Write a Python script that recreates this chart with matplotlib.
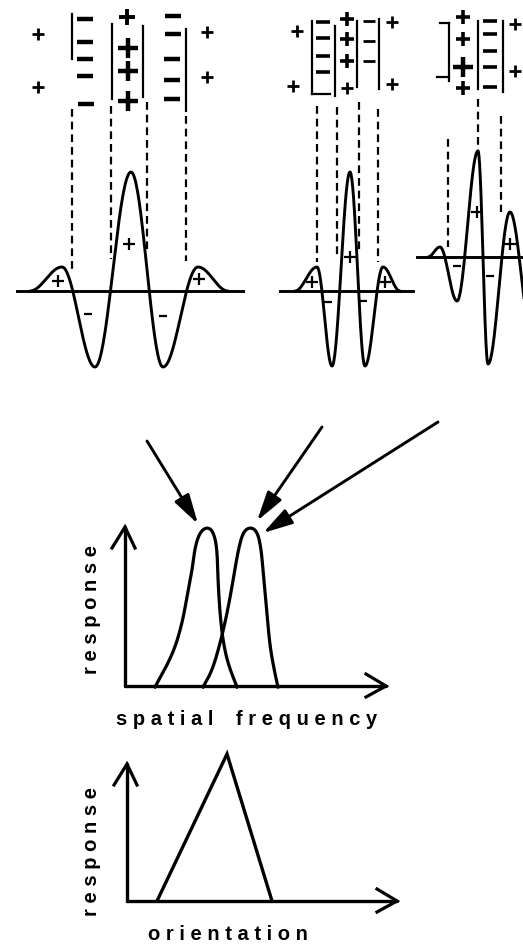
import numpy as np
import matplotlib
matplotlib.use("Agg")
import matplotlib.pyplot as plt

# ---------------- data (diagram units, y downward) ----------------
# receptive-field profiles: extrema (x, y) of each profile
prof1_x = [30, 62, 95, 131, 163, 198, 228]
prof1_y = [292, 268, 368, 173, 368, 268, 292]
prof2_x = [295, 317, 332, 350, 365, 383, 400]
prof2_y = [292, 268, 367, 173, 367, 268, 292]
prof3_x = [428, 440, 457, 478, 488, 510, 532]
prof3_y = [258, 248, 302, 152, 365, 213, 335]
baselines = [(17, 243, 292), (280, 413, 292), (417, 523, 258)]

# profile sign labels (x, y, sign)
prof_signs = [(58, 282, "+"), (88, 315, "-"), (129, 245, "+"), (163, 317, "-"), (199, 280, "+"),
              (312, 283, "+"), (328, 303, "-"), (350, 258, "+"), (363, 302, "-"), (385, 283, "+"),
              (457, 267, "-"), (477, 213, "+"), (490, 277, "-"), (510, 245, "+")]

# receptive-field bars: thick signs (x, y, sign, size class)
bar_signs = [(85, 20, "-", "L"), (85, 43, "-", "L"), (85, 60, "-", "L"), (85, 77, "-", "L"),
             (86, 105, "-", "L"),
             (127, 18, "+", "S"), (128, 49, "+", "L"), (128, 72, "+", "L"), (128, 102, "+", "L"),
             (173, 17, "-", "L"), (173, 35, "-", "L"), (172, 60, "-", "L"), (172, 81, "-", "L"),
             (172, 100, "-", "L"),
             (323, 23, "-", "M"), (323, 39, "-", "M"), (323, 57, "-", "M"), (323, 73, "-", "M"),
             (347, 20, "+", "M"), (347, 40, "+", "M"), (347, 62, "+", "M"),
             (463, 18, "+", "M"), (463, 40, "+", "M"), (463, 68, "+", "L"), (463, 89, "+", "M"),
             (490, 22, "-", "M"), (490, 35, "-", "M"), (490, 52, "-", "M"), (490, 68, "-", "M"),
             (490, 88, "-", "M")]
thin_minus = [(369, 22), (369, 42), (369, 62)]
small_plus = [(38, 35), (38, 88), (207, 33), (207, 78), (297, 32), (293, 87),
              (392, 23), (392, 85), (347, 89), (515, 25), (515, 72)]
# solid bar borders (x, y_top, y_bottom)
solid_lines = [(72, 15, 60), (112, 25, 100), (143, 27, 98), (186, 30, 112),
               (312, 22, 95), (335, 27, 97), (357, 22, 88), (379, 20, 90),
               (449, 24, 82), (478, 22, 90), (503, 22, 93)]
solid_hlines = [(312, 330, 95), (440, 449, 24), (437, 449, 78)]
# dashed projection lines (x, y_top, y_bottom)
dashed_lines = [(72, 110, 270), (111, 107, 260), (147, 103, 250), (186, 117, 262),
                (317, 107, 263), (337, 108, 257), (359, 103, 253), (378, 110, 263),
                (448, 140, 248), (478, 100, 153), (501, 117, 213)]

# pointer arrows (tail x, tail y, head x, head y)
pointers = [(147, 442, 198, 525), (322, 428, 257, 522), (438, 423, 263, 534)]

# spatial-frequency tuning curves
sf1_x = [155, 173, 182, 187, 192, 195, 200, 207, 213, 217, 218, 220, 223, 228, 237]
sf1_y = [688, 655, 625, 598, 572, 548, 533, 528, 532, 548, 582, 615, 642, 665, 688]
sf2_x = [203, 212, 220, 227, 233, 238, 243, 250, 257, 261, 264, 267, 270, 275, 278]
sf2_y = [688, 672, 645, 615, 582, 552, 533, 528, 532, 548, 582, 615, 648, 675, 688]
sf_axis = (125, 687, 386, 528)        # x0, y0, x_end, y_top

# orientation tuning triangle
or_axis = (127, 902, 397, 765)
or_x = [157, 227, 272]
or_y = [902, 755, 902]

# ---------------- figure ----------------
fig = plt.figure(figsize=(5.23, 9.45), dpi=100)
ax = fig.add_axes([0, 0, 1, 1])
ax.set_xlim(0, 523)
ax.set_ylim(945, 0)
ax.axis("off")

K = "black"
LW = 2.1


def cos_curve(xs, ys, n=40):
    px, py = [], []
    for i in range(len(xs) - 1):
        t = np.linspace(0, 1, n)
        f = (1 - np.cos(np.pi * t)) / 2
        px.extend(xs[i] + (xs[i + 1] - xs[i]) * t)
        py.extend(ys[i] + (ys[i + 1] - ys[i]) * f)
    return np.array(px), np.array(py)


def chaikin(xs, ys, it=4):
    P = np.column_stack([xs, ys]).astype(float)
    for _ in range(it):
        Q = 0.75 * P[:-1] + 0.25 * P[1:]
        R = 0.25 * P[:-1] + 0.75 * P[1:]
        mid = np.empty((2 * len(Q), 2))
        mid[0::2] = Q
        mid[1::2] = R
        P = np.vstack([P[0], mid, P[-1]])
    return P[:, 0], P[:, 1]


for xs, ys in [(prof1_x, prof1_y), (prof2_x, prof2_y), (prof3_x, prof3_y)]:
    px, py = cos_curve(xs, ys)
    ax.plot(px, py, color=K, lw=LW, solid_capstyle="round")
for x0, x1, y in baselines:
    ax.plot([x0, x1], [y, y], color=K, lw=LW)

for x, y, s in prof_signs:
    if s == "+":
        ax.plot(x, y, marker="+", ms=9, mew=1.6, color=K)
    else:
        ax.plot(x, y, marker="_", ms=6, mew=1.6, color=K)

SIZES = {"L": (14, 11.5, 3.2), "M": (10, 9.5, 2.6), "S": (11, 9, 2.8)}
for x, y, s, c in bar_signs:
    pms, mms, mew = SIZES[c]
    if s == "+":
        ax.plot(x, y, marker="+", ms=pms, mew=mew, color=K)
    else:
        ax.plot(x, y, marker="_", ms=mms, mew=mew, color=K)
for x, y in thin_minus:
    ax.plot(x, y, marker="_", ms=9, mew=2.0, color=K)
for x, y in small_plus:
    ax.plot(x, y, marker="+", ms=8, mew=2.0, color=K)

for x, y0, y1 in solid_lines:
    ax.plot([x, x], [y0, y1], color=K, lw=1.6)
for x0, x1, y in solid_hlines:
    ax.plot([x0, x1], [y, y], color=K, lw=1.6)
for x, y0, y1 in dashed_lines:
    ax.plot([x, x], [y0, y1], color=K, lw=1.6, linestyle=(0, (3.5, 2.2)))

for tx, ty, hx, hy in pointers:
    ax.annotate("", xy=(hx, hy), xytext=(tx, ty),
                arrowprops=dict(arrowstyle="-|>,head_length=1.0,head_width=0.28",
                                mutation_scale=18, color=K, lw=2.1, shrinkA=0, shrinkB=0))


def open_axes(x0, y0, x1, ytop):
    ax.plot([x0, x0], [y0, ytop], color=K, lw=2.4, solid_capstyle="round")
    ax.plot([x0, x1], [y0, y0], color=K, lw=2.4, solid_capstyle="round")
    ax.plot([x0 - 13, x0, x0 + 10], [ytop + 21, ytop, ytop + 21], color=K, lw=2.3,
            solid_joinstyle="miter")
    ax.plot([x1 - 20, x1, x1 - 20], [y0 - 12, y0, y0 + 11], color=K, lw=2.3,
            solid_joinstyle="miter")


open_axes(*sf_axis)
for xs, ys in [(sf1_x, sf1_y), (sf2_x, sf2_y)]:
    cx, cy = chaikin(xs, ys)
    ax.plot(cx, cy, color=K, lw=2.3)

open_axes(*or_axis)
ax.plot(or_x, or_y, color=K, lw=2.4, solid_joinstyle="miter")

font = dict(family=["Liberation Sans", "DejaVu Sans"], fontweight="bold", color=K, fontsize=14.5)


def spaced(s):
    return " ".join(s).replace("   ", "    ")


for yc in (610, 852):
    ax.text(97, yc, spaced("response"), rotation=90, rotation_mode="anchor",
            ha="center", va="baseline", **font)
ax.text(247, 725, spaced("spatial frequency"), ha="center", va="baseline", **font)
ax.text(227.5, 940, spaced("orientation"), ha="center", va="baseline", **font)

fig.savefig("out.png", dpi=100, facecolor="white")
